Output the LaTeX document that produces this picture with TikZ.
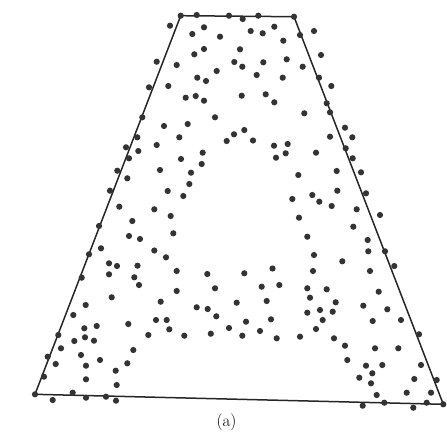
\documentclass[tikz,border=0pt]{standalone}
\begin{document}
\begin{tikzpicture}[x=1pt,y=-1pt,
  edge/.style={line width=1.5pt,black!85,line join=round},
  pt/.style={fill=black!80},
  lbl/.style={font=\fontsize{17}{19}\selectfont,inner sep=0pt}]
\useasboundingbox (0,0) rectangle (447,434);
\coordinate (TL) at (180.7,15.7);
\coordinate (TR) at (294,16.7);
\coordinate (BR) at (443.3,404.3);
\coordinate (BL) at (35,394.3);
\draw[edge] (TL) -- (TR) -- (BR) -- (BL) -- cycle;
\foreach \x/\y in {
180.7/15.7,196.7/15,229/15.7,242.7/19,258.3/15.7,294/16.7,
170/25.7,204/27.3,192.3/34,220/36.7,250.7/31,262.7/33.3,274.3/26.7,300/35,314/31,283.3/40.7,
204/49,194.3/54.3,240/49.3,156.7/61.7,176.7/65,234.3/62,242.3/66.7,263.3/62.3,286.7/59.3,321/55,302.7/66.7,
216.7/71,256.7/75,282.7/77.7,197.3/77.7,206/81,319/77.7,
149/87.3,168.3/86,331.3/86,
185.7/97.7,195.7/96,204/100.7,241.7/95.7,265.7/94.3,274.3/102.3,326.7/103.3,
330/112.3,304.3/113.3,142.3/117.3,215/117.3,
164/126,187.7/124,345/127.7,234/134.3,244.3/130,137.3/137.3,179.3/137.3,330/136.7,253/140.5,226.7/141,
126/147.3,138.3/151,156.7/145,202.7/152.7,129/158.3,181/159,201.7/164,117.3/170.7,160/170,191/172.7,
127.3/178.3,189.3/184,110/190.7,167.7/191,183.3/196,119.3/206.7,154.3/209.3,170.7/216,132.3/221,99/226,
173.3/233.3,129/236,140/239,101/248.3,154.3/250.5,166/257.3,89/254.3,109/263.3,117/266,137.5/265.7,176.7/271,
274/145.7,287.7/144,276/157.7,285.7/153.3,316/152.7,352.3/137.3,345.7/148.3,352.7/158.3,361/172.3,336.7/171,
298.3/175,337.3/190.7,366/193.3,312.3/195,319.3/201.7,292.3/199,331.7/206,356.7/209.3,380/215,299/217.7,
353.3/226.7,307.3/236.7,367.7/240,368.3/251.3,385/251.3,314/255,342.3/261.3,394.3/266,272.5/268.5,370/271,313/271,
81.7/277.7,109/274.3,134.3/277.3,139/285,176.7/291,207.3/274,215/288.3,111.7/297.3,85.7/305,160.7/301.7,
73.3/315,196.7/307.3,207.7/309,216.3/316.3,128.3/324,96.7/326,84.3/328.3,156/320,166.7/320,169.3/329.3,
58.3/335,85/337.3,94/340.7,74.3/341,148.3/335,184.3/335.7,210.8/333.7,229/328,61/348.3,133.3/350,
47.7/356.7,81/355,100/360,55.7/364,86/365.7,127.3/363.3,115.7/370.7,44/376.7,86/379.3,116.7/385,
35/394.3,52.7/400,72.7/392.7,86/397.7,106/396.7,116/400.7,
244.3/273.3,261.7/286.7,279.3/285,307.3/288.3,326.7/289.3,310/297.7,378.7/291.7,236.7/302.7,266.7/301,
335.7/302.3,363.3/305.7,387.3/309.3,307.3/312.7,320/310,332.7/311.7,246/321.7,271/319.3,322.7/320,
372.7/321,401/320,242.3/335.7,260/331,276.7/338.3,300/336.7,316/329,334/338.3,419/334.3,345/345.7,
375/348.3,398.3/348.3,347.3/360,366/365.7,382.3/365,421/365,372.3/373.3,359.3/377.7,414.3/379,436.7/380,
371/383.3,376.7/395,406.7/392.7,431/392.7,362.7/405.7,384.3/402.7,413.3/407.7,426.7/402.7,443.3/404.3}
  \fill[pt] (\x,\y) circle (3.1);
\node[lbl] (cap) at (226.5,422) {(a)};
\end{tikzpicture}
\end{document}
